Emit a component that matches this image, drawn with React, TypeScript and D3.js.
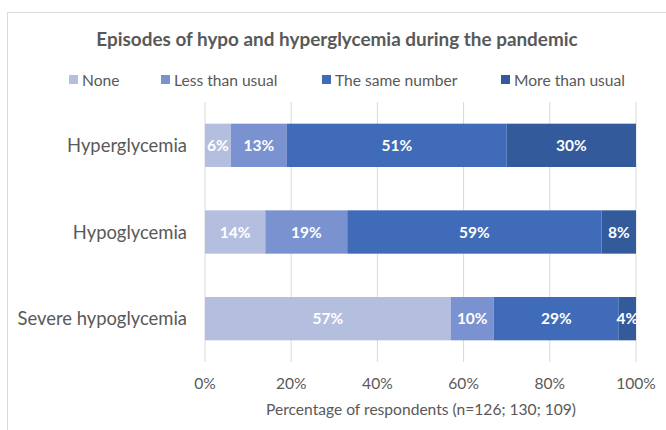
import React from "react";
import * as d3 from "d3";

const categories = ["Hyperglycemia", "Hypoglycemia", "Severe hypoglycemia"];
const seriesNames = ["None", "Less than usual", "The same number", "More than usual"];
const noneValues = [6, 14, 57];
const lessValues = [13, 19, 10];
const sameValues = [51, 59, 29];
const moreValues = [30, 8, 4];
const tickValues = [0, 20, 40, 60, 80, 100];
const colors = ["#b4bfe0", "#7a92cf", "#3f6bb8", "#335a9b"];

const W = 666;
const H = 430;
const font = "Lato, 'Open Sans', sans-serif";

export default function App() {
  const x = d3.scaleLinear().domain([0, 100]).range([205, 636]);
  const y = d3.scaleBand().domain(categories).range([102, 362]).paddingInner(0.5).paddingOuter(0.25);
  const rows = categories.map((c, i) => ({
    cat: c,
    None: noneValues[i],
    "Less than usual": lessValues[i],
    "The same number": sameValues[i],
    "More than usual": moreValues[i],
  }));
  const stacked = d3.stack<any>().keys(seriesNames)(rows);
  const legendX = [69, 161, 322, 501];

  return (
    <svg width={W} height={H} style={{ position: "absolute", left: 0, top: 0 }} fontFamily={font}>
      <rect x={0} y={0} width={W} height={H} fill="#fff" />
      <rect x={7.5} y={12.5} width={W + 10} height={H + 10} fill="none" stroke="#d9d9d9" />
      <text x={337} y={46} textAnchor="middle" fontSize={18.9} fontWeight="bold" fill="#595959">
        Episodes of hypo and hyperglycemia during the pandemic
      </text>
      {seriesNames.map((s, i) => (
        <g key={s}>
          <rect x={legendX[i]} y={75} width={9} height={9} fill={colors[i]} />
          <text x={legendX[i] + 13} y={85.5} fontSize={15.6} fill="#595959">{s}</text>
        </g>
      ))}
      {tickValues.map((t) => (
        <g key={t}>
          <line x1={x(t)} x2={x(t)} y1={102} y2={362} stroke="#d9d9d9" strokeWidth={1} />
          <text x={x(t)} y={389} textAnchor="middle" fontSize={15.6} fill="#595959">{t}%</text>
        </g>
      ))}
      {stacked.map((layer, si) => (
        <g key={layer.key}>
          {layer.map((d, ci) => {
            const x0 = x(d[0]);
            const x1 = x(d[1]);
            const yy = y(categories[ci])!;
            const v = d[1] - d[0];
            return (
              <g key={ci}>
                <rect x={x0} y={yy} width={x1 - x0} height={y.bandwidth()} fill={colors[si]} />
                <text
                  x={(x0 + x1) / 2}
                  y={yy + y.bandwidth() / 2 + 5.5}
                  textAnchor="middle"
                  fontSize={15.5}
                  fontWeight="bold"
                  fill="#fff"
                >
                  {v}%
                </text>
              </g>
            );
          })}
        </g>
      ))}
      {categories.map((c) => (
        <text key={c} x={187} y={y(c)! + y.bandwidth() / 2 + 6.5} textAnchor="end" fontSize={18.4} fill="#595959">
          {c}
        </text>
      ))}
      <text x={421} y={415} textAnchor="middle" fontSize={15.6} fill="#595959">
        Percentage of respondents (n=126; 130; 109)
      </text>
    </svg>
  );
}
